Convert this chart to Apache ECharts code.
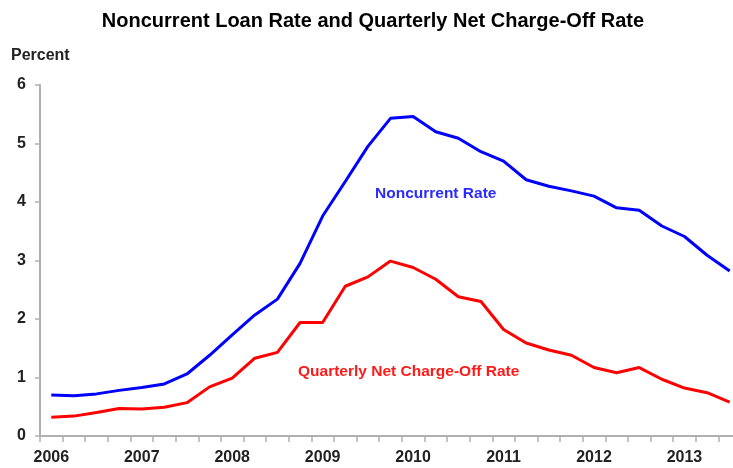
<!DOCTYPE html>
<html>
<head>
<meta charset="utf-8">
<script src="https://cdn.jsdelivr.net/npm/echarts@6/dist/echarts.min.js"></script>
<style>
html,body{margin:0;padding:0;background:#fff;overflow:hidden;}
#chart{width:745px;height:468px;}
</style>
</head>
<body>
<div id="chart"></div>
<script>
var quarters = [
  '2006','2006Q2','2006Q3','2006Q4',
  '2007','2007Q2','2007Q3','2007Q4',
  '2008','2008Q2','2008Q3','2008Q4',
  '2009','2009Q2','2009Q3','2009Q4',
  '2010','2010Q2','2010Q3','2010Q4',
  '2011','2011Q2','2011Q3','2011Q4',
  '2012','2012Q2','2012Q3','2012Q4',
  '2013','2013Q2','2013Q3'
];
var noncurrentRate = [0.70,0.69,0.72,0.78,0.83,0.89,1.06,1.38,1.73,2.07,2.34,2.95,3.76,4.35,4.95,5.43,5.46,5.20,5.09,4.86,4.70,4.38,4.27,4.19,4.10,3.90,3.86,3.59,3.41,3.09,2.82];
var chargeOffRate = [0.32,0.34,0.40,0.47,0.46,0.49,0.57,0.84,0.99,1.33,1.43,1.94,1.94,2.56,2.72,2.99,2.88,2.68,2.38,2.30,1.82,1.59,1.47,1.38,1.17,1.08,1.17,0.97,0.82,0.74,0.58];
var yTicks = [0,1,2,3,4,5,6];

var FONT = '"Liberation Sans", Arial, sans-serif';
var chart = echarts.init(document.getElementById('chart'), null, {renderer:'canvas'});
chart.setOption({
  animation: false,
  backgroundColor: '#ffffff',
  title: {
    text: 'Noncurrent Loan Rate and Quarterly Net Charge-Off Rate',
    left: 368, textAlign: 'center',
    top: 6,
    textStyle: {fontFamily: FONT, fontWeight: 'bold', fontSize: 20, color: '#000'}
  },
  grid: {left: 40, top: 85, width: 701, bottom: 32, containLabel: false},
  xAxis: {
    type: 'category',
    data: quarters,
    boundaryGap: true,
    axisLine: {lineStyle: {color: '#b0b0b0', width: 2}},
    axisTick: {show: true, interval: 0, length: 6, lineStyle: {color: '#b0b0b0', width: 1.5}},
    axisLabel: {
      interval: 3,
      margin: 14,
      fontFamily: FONT, fontWeight: 'bold', fontSize: 16, color: '#222',
      formatter: function (v) { return v.slice(0, 4); }
    },
    splitLine: {show: false}
  },
  yAxis: {
    type: 'value',
    min: yTicks[0], max: yTicks[yTicks.length - 1], interval: 1,
    axisLine: {show: true, lineStyle: {color: '#b0b0b0', width: 2}},
    axisTick: {show: true, length: 5, lineStyle: {color: '#b0b0b0', width: 1.5}},
    axisLabel: {margin: 14, fontFamily: FONT, fontWeight: 'bold', fontSize: 16, color: '#222'},
    splitLine: {show: false}
  },
  series: [
    {
      name: 'Noncurrent Rate', type: 'line', data: noncurrentRate,
      symbol: 'none', smooth: false,
      lineStyle: {color: '#0000FF', width: 3}
    },
    {
      name: 'Quarterly Net Charge-Off Rate', type: 'line', data: chargeOffRate,
      symbol: 'none', smooth: false,
      lineStyle: {color: '#FF0000', width: 3}
    }
  ],
  graphic: [
    {type: 'text', left: 11, top: 48,
     style: {text: 'Percent', font: 'bold 16px ' + FONT, fill: '#222'}},
    {type: 'text', left: 375, top: 186,
     style: {text: 'Noncurrent Rate', font: 'bold 15.5px ' + FONT, fill: '#2b2bff'}},
    {type: 'text', left: 298, top: 364,
     style: {text: 'Quarterly Net Charge-Off Rate', font: 'bold 15.5px ' + FONT, fill: '#ff1a1a'}}
  ]
});
</script>
</body>
</html>
